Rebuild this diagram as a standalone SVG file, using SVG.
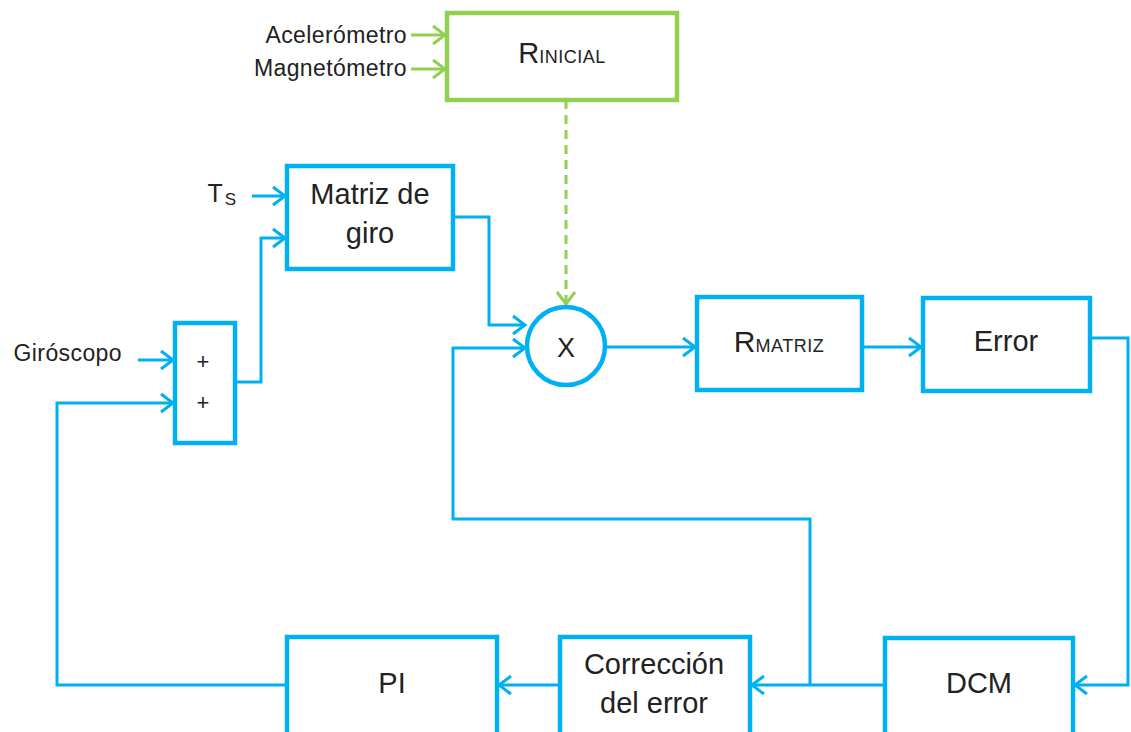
<svg xmlns="http://www.w3.org/2000/svg" width="1131" height="732" viewBox="0 0 1131 732">
<defs>
<style>
.b{fill:#fff;stroke:#00B0F0;stroke-width:4.5}
.g{fill:#fff;stroke:#92D050;stroke-width:4.5}
.l{fill:none;stroke:#00B0F0;stroke-width:3}
.lg{fill:none;stroke:#92D050;stroke-width:3}
.t{font-family:"Liberation Sans",Arial,sans-serif;fill:#222;font-size:29px;text-anchor:middle}
.s{font-family:"Liberation Sans",Arial,sans-serif;fill:#222;font-size:23px;text-anchor:end;letter-spacing:0.4px}
</style>
<marker id="ab" markerUnits="userSpaceOnUse" markerWidth="20" markerHeight="24" viewBox="0 0 20 24" refX="15" refY="12" orient="auto">
<path d="M3,3 L15,12 L3,21" fill="none" stroke="#00B0F0" stroke-width="3"/>
</marker>
<marker id="ag" markerUnits="userSpaceOnUse" markerWidth="20" markerHeight="24" viewBox="0 0 20 24" refX="15" refY="12" orient="auto">
<path d="M3,3 L15,12 L3,21" fill="none" stroke="#92D050" stroke-width="3"/>
</marker>
</defs>
<g id="connectors">
<path class="lg" d="M411,35 H445" marker-end="url(#ag)"/>
<path class="lg" d="M411,69 H445" marker-end="url(#ag)"/>
<path class="lg" d="M566,100 V304" stroke-dasharray="9,6" marker-end="url(#ag)"/>
<path class="l" d="M252,196 H285" marker-end="url(#ab)"/>
<path class="l" d="M235,382 H261 V238 H285" marker-end="url(#ab)"/>
<path class="l" d="M138,360 H173" marker-end="url(#ab)"/>
<path class="l" d="M287,685 H57 V403 H173" marker-end="url(#ab)"/>
<path class="l" d="M453,217 H489 V325 H525" marker-end="url(#ab)"/>
<path class="l" d="M810,685 V519 H453 V348 H525" marker-end="url(#ab)"/>
<path class="l" d="M605,347 H695" marker-end="url(#ab)"/>
<path class="l" d="M862,347 H921" marker-end="url(#ab)"/>
<path class="l" d="M1090,338 H1128 V685 H1075" marker-end="url(#ab)"/>
<path class="l" d="M885,685 H752" marker-end="url(#ab)"/>
<path class="l" d="M560,685 H499" marker-end="url(#ab)"/>
</g>
<g id="labels">
<text class="s" x="407" y="43">Acelerómetro</text>
<text class="s" x="407" y="76">Magnetómetro</text>
<text class="s" x="122" y="361">Giróscopo</text>
<text class="s" x="238" y="202" style="font-size:25px;letter-spacing:2px">T<tspan font-size="17" dy="3">S</tspan></text>
</g>
<g id="rinicial">
<rect class="g" x="447" y="13" width="230" height="87"/>
<text class="t" x="562" y="63" style="font-size:29px">R<tspan font-size="18" letter-spacing="0.5">INICIAL</tspan></text>
</g>
<g id="matriz">
<rect class="b" x="287" y="166" width="166" height="103"/>
<text class="t" x="370" y="204">Matriz de</text>
<text class="t" x="370" y="243">giro</text>
</g>
<g id="sum">
<rect class="b" x="175" y="323" width="60" height="120"/>
<text class="t" x="203" y="369" style="font-size:22px">+</text>
<text class="t" x="203" y="410" style="font-size:22px">+</text>
</g>
<g id="mult">
<circle cx="566" cy="346" r="39" fill="#fff" stroke="#00B0F0" stroke-width="4.5"/>
<text class="t" x="566" y="357" style="font-size:27px">X</text>
</g>
<g id="rmatriz">
<rect class="b" x="697" y="297" width="165" height="93"/>
<text class="t" x="779" y="352" style="font-size:30px">R<tspan font-size="18" letter-spacing="0.5">MATRIZ</tspan></text>
</g>
<g id="error">
<rect class="b" x="923" y="298" width="167" height="93"/>
<text class="t" x="1006" y="351">Error</text>
</g>
<g id="dcm">
<rect class="b" x="885" y="638" width="188" height="100"/>
<text class="t" x="979" y="693">DCM</text>
</g>
<g id="correccion">
<rect class="b" x="560" y="637" width="190" height="101"/>
<text class="t" x="654" y="674">Corrección</text>
<text class="t" x="654" y="713">del error</text>
</g>
<g id="pi">
<rect class="b" x="287" y="637" width="210" height="101"/>
<text class="t" x="392" y="693">PI</text>
</g>
</svg>
